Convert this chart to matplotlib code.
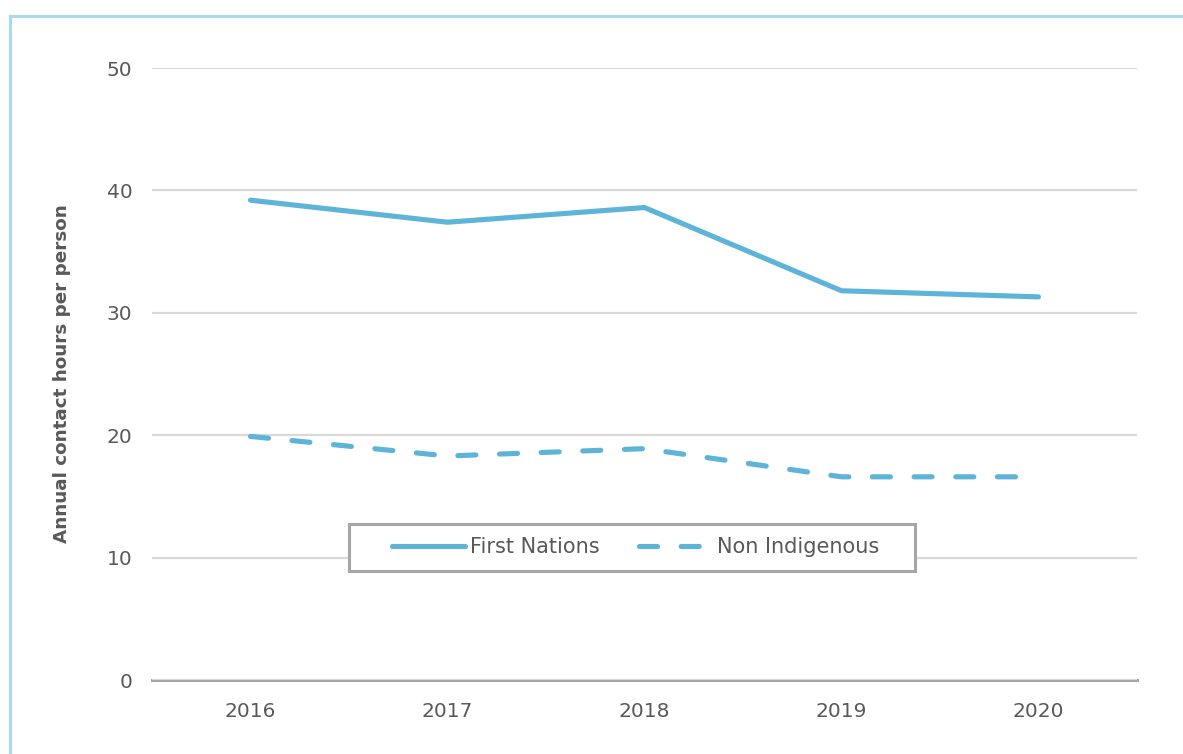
import matplotlib
matplotlib.use("Agg")
import matplotlib.pyplot as plt
from matplotlib.lines import Line2D
from matplotlib.patches import Rectangle

plt.rcParams['font.family'] = ['DejaVu Sans']
plt.rcParams['lines.scale_dashes'] = False

# Data
years = ['2016', '2017', '2018', '2019', '2020']
first_nations = [39.2, 37.4, 38.6, 31.8, 31.3]
non_indigenous = [19.9, 18.3, 18.9, 16.6, 16.6]
y_ticks = [0, 10, 20, 30, 40, 50]

line_color = '#5db4d8'
text_color = '#595959'

fig = plt.figure(figsize=(11.83, 7.54), dpi=100)
ax = fig.add_axes([152 / 1183, 74 / 754, 985 / 1183, 612 / 754])

x = range(len(years))
ax.plot(x, first_nations, color=line_color, lw=3.7, solid_capstyle='round',
        solid_joinstyle='round', label='First Nations')
ax.plot(x, non_indigenous, color=line_color, lw=3.7, linestyle=(0, (13, 17)),
        dash_capstyle='round', dash_joinstyle='round', label='Non Indigenous')

ax.set_xlim(-0.5, len(years) - 0.5)
ax.set_ylim(0, 50)
ax.set_xticks(list(x))
ax.set_xticklabels(years)
ax.set_yticks(y_ticks)
ax.yaxis.grid(True, color='#d9d9d9', lw=1.6)
ax.set_axisbelow(True)
for s in ['top', 'right', 'left']:
    ax.spines[s].set_visible(False)
ax.spines['bottom'].set_color('#a6a6a6')
ax.spines['bottom'].set_linewidth(2.2)
ax.spines['bottom'].set_zorder(0.5)
ax.tick_params(axis='both', length=0, labelsize=14.5, labelcolor=text_color)
ax.tick_params(axis='y', pad=14)
ax.tick_params(axis='x', pad=16)

ax.set_ylabel('Annual contact hours per person', fontsize=13.2, fontweight='bold',
              color=text_color, labelpad=26)

# legend frame is wider than its content, so draw it separately
ax.add_patch(Rectangle((0.2, 0.178), 0.5746, 0.077, transform=ax.transAxes,
                       facecolor='white', edgecolor='#a6a6a6', lw=2.2, zorder=4))
leg = ax.legend(loc='center', bbox_to_anchor=(0.491, 0.217), ncol=2, frameon=False,
                fontsize=15, handlelength=3.5, handletextpad=0.25,
                columnspacing=1.9, labelcolor=text_color)
leg.set_zorder(5)

# light blue frame on top and left
border = '#a9d9f0'
fig.add_artist(Line2D([10 / 1183, 1.0], [1 - 16 / 754, 1 - 16 / 754],
                      transform=fig.transFigure, color=border, lw=2.2))
fig.add_artist(Line2D([10 / 1183, 10 / 1183], [0, 1 - 16 / 754],
                      transform=fig.transFigure, color=border, lw=2.2))

fig.savefig('out.png', dpi=100)
